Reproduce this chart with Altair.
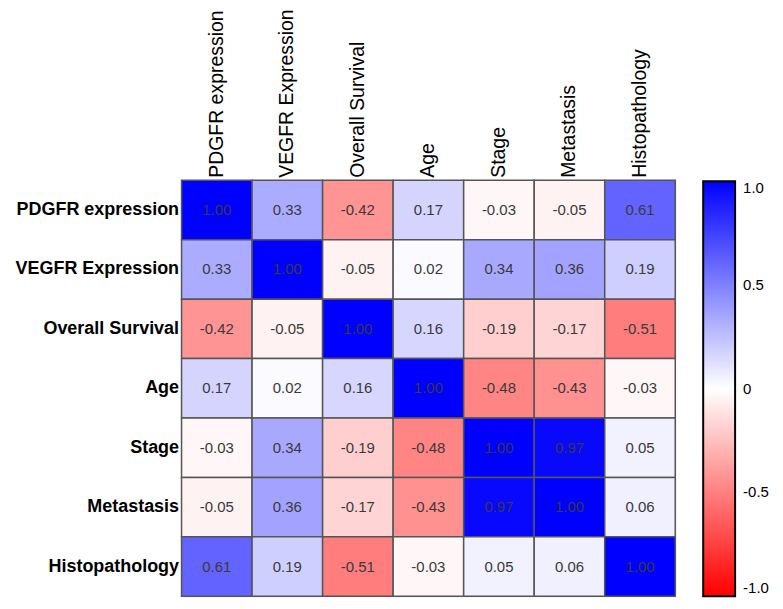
import altair as alt
import pandas as pd

variables = ["PDGFR expression", "VEGFR Expression", "Overall Survival", "Age",
             "Stage", "Metastasis", "Histopathology"]

corr_rows = [
    [1.00, 0.33, -0.42, 0.17, -0.03, -0.05, 0.61],
    [0.33, 1.00, -0.05, 0.02, 0.34, 0.36, 0.19],
    [-0.42, -0.05, 1.00, 0.16, -0.19, -0.17, -0.51],
    [0.17, 0.02, 0.16, 1.00, -0.48, -0.43, -0.03],
    [-0.03, 0.34, -0.19, -0.48, 1.00, 0.97, 0.05],
    [-0.05, 0.36, -0.17, -0.43, 0.97, 1.00, 0.06],
    [0.61, 0.19, -0.51, -0.03, 0.05, 0.06, 1.00],
]

legend_values = [-1.0, -0.5, 0.0, 0.5, 1.0]

records = []
for i, rname in enumerate(variables):
    for j, cname in enumerate(variables):
        records.append({"row": rname, "col": cname, "r": corr_rows[i][j]})
df = pd.DataFrame(records)

FONT = "Liberation Sans"

x_enc = alt.X("col:N", sort=variables, title=None,
              scale=alt.Scale(paddingInner=0, paddingOuter=0),
              axis=alt.Axis(orient="top", labelAngle=-90, labelAlign="left",
                            labelBaseline="middle", labelFontSize=19.5,
                            labelFont=FONT, labelColor="black", labelPadding=3,
                            ticks=False, domain=False, labelLimit=300))
y_enc = alt.Y("row:N", sort=variables, title=None,
              scale=alt.Scale(paddingInner=0, paddingOuter=0),
              axis=alt.Axis(labelFontSize=18, labelFontWeight="bold",
                            labelFont=FONT, labelColor="black", labelPadding=3,
                            ticks=False, domain=False, labelLimit=300))

color_scale = alt.Scale(domain=[-1, 0, 1], range=["#ff0000", "#ffffff", "#0000ff"],
                        interpolate="rgb")

rects = alt.Chart(df).mark_rect(stroke="#555555", strokeWidth=1.5).encode(
    x=x_enc, y=y_enc,
    color=alt.Color("r:Q", scale=color_scale,
                    legend=alt.Legend(
                        title=None, orient="none", legendX=523, legendY=1,
                        direction="vertical", gradientLength=416,
                        gradientThickness=32, gradientStrokeColor="black",
                        gradientStrokeWidth=2, values=legend_values,
                        labelExpr="datum.value == 0 ? '0' : replace(format(datum.value, '.1f'), '\u2212', '-')",
                        labelFontSize=15, labelFont=FONT, labelColor="black",
                        labelBaseline="middle", labelOffset=8, padding=0,
                        labelOverlap=False)),
)

texts = alt.Chart(df).transform_calculate(
    label="replace(format(datum.r, '.2f'), '\u2212', '-')"
).mark_text(fontSize=15, font=FONT, color="#3a3a3a").encode(
    x=alt.X("col:N", sort=variables),
    y=alt.Y("row:N", sort=variables),
    text=alt.Text("label:N"),
)

chart = (rects + texts).properties(
    width=495, height=417,
    autosize=alt.AutoSizeParams(type="none"),
    padding={"left": 174, "top": 172, "right": 100, "bottom": 5},
).configure_view(stroke="black", strokeWidth=3).configure(background="white")

chart.save("out.html", embed_options={"renderer": "svg", "actions": False})
